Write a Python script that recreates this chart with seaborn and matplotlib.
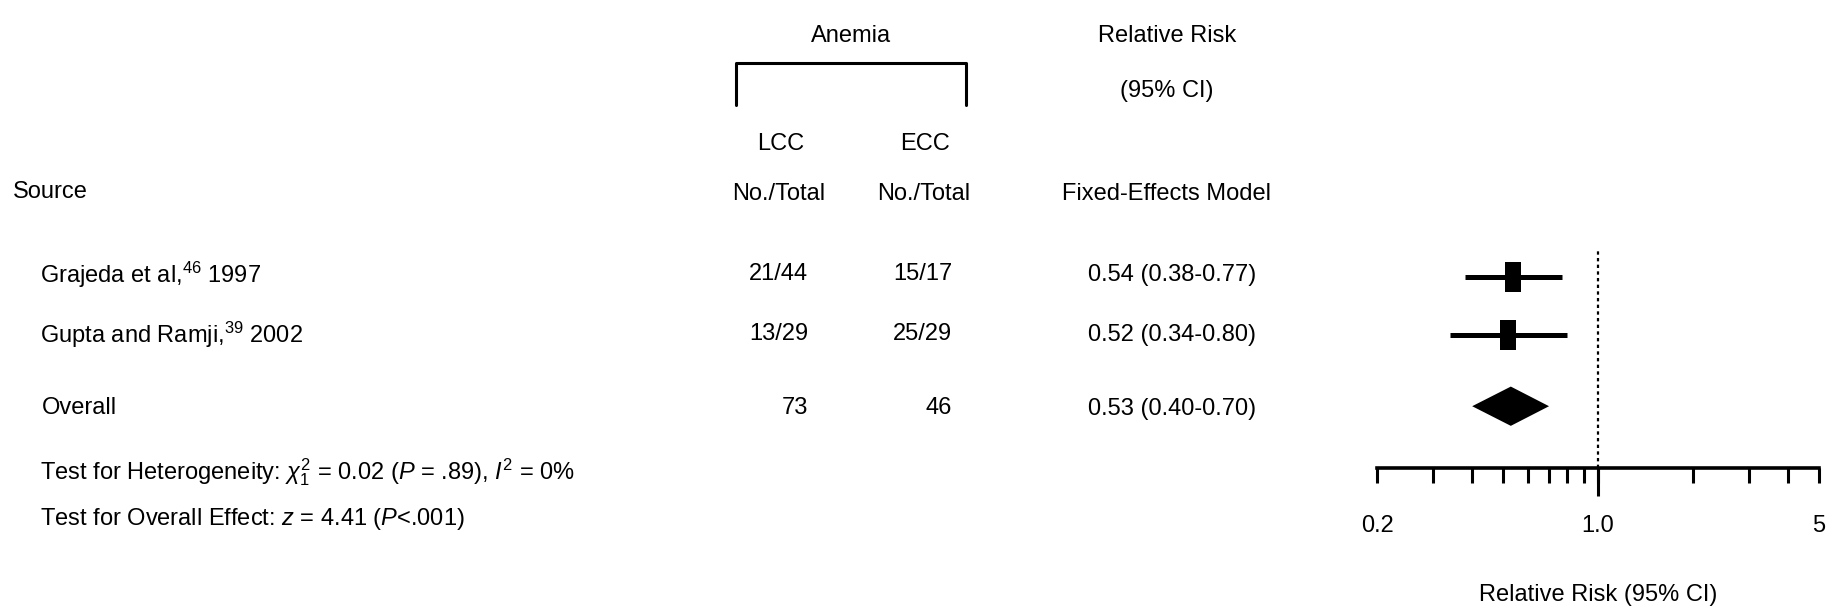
import matplotlib
matplotlib.use("Agg")
import matplotlib.pyplot as plt
from matplotlib import font_manager
from matplotlib.lines import Line2D
from matplotlib.ticker import FixedLocator, FixedFormatter, NullFormatter
import seaborn as sns
import pandas as pd

sns.set_style("white")

# study data
sources = ["Grajeda et al,$^{46}$ 1997", "Gupta and Ramji,$^{39}$ 2002"]
lcc_counts = ["21/44", "13/29"]
ecc_counts = ["15/17", "25/29"]
rr = [0.54, 0.52]
rr_low = [0.38, 0.34]
rr_high = [0.77, 0.80]

overall_lcc = "73"
overall_ecc = "46"
overall_rr = 0.53
overall_low = 0.40
overall_high = 0.70

heterogeneity = r"Test for Heterogeneity: $\chi^2_1$ = 0.02 ($P$ = .89), $I^2$ = 0%"
overall_effect = r"Test for Overall Effect: $z$ = 4.41 ($P$<.001)"

null_value = 1.0
major_ticks = [0.2, 1.0, 5]
major_labels = ["0.2", "1.0", "5"]
minor_ticks = [0.3, 0.4, 0.5, 0.6, 0.7, 0.8, 0.9, 2, 3, 4]


def pick_font():
    for name in ["Liberation Sans Narrow", "Liberation Sans"]:
        try:
            font_manager.findfont(font_manager.FontProperties(family=name),
                                  fallback_to_default=False)
            return name
        except ValueError:
            pass
    return "DejaVu Sans"


font = pick_font()
fs = 20 if "Narrow" in font else 17
plt.rcParams["font.family"] = [font, "DejaVu Sans"]
plt.rcParams["mathtext.fontset"] = "custom"
plt.rcParams["mathtext.rm"] = font
plt.rcParams["mathtext.it"] = font + ":italic"

W, H = 1835, 614
fig = plt.figure(figsize=(W / 100, H / 100), dpi=100)


def fx(x):
    return x / W


def fy(y):
    return 1 - y / H


def txt(x, y, s, ha="left"):
    fig.text(fx(x), fy(y), s, ha=ha, va="center_baseline", fontsize=fs, color="black")


# headers
txt(851, 33, "Anemia", "center")
txt(1167, 33, "Relative Risk", "center")
txt(1167, 88, "(95% CI)", "center")
txt(781, 141, "LCC", "center")
txt(925, 141, "ECC", "center")
txt(13, 190, "Source")
txt(779, 192, "No./Total", "center")
txt(924, 192, "No./Total", "center")
txt(1166, 192, "Fixed-Effects Model", "center")

bracket = Line2D([fx(736), fx(736), fx(966), fx(966)], [fy(105), fy(63), fy(63), fy(105)],
                 transform=fig.transFigure, color="black", lw=2.2)
fig.add_artist(bracket)

# table rows
text_rows = [271, 331]
for y, s, a, b, m, lo, hi in zip(text_rows, sources, lcc_counts, ecc_counts, rr, rr_low, rr_high):
    txt(40, y, s)
    txt(808, y + 1, a, "right")
    txt(952, y + 1, b, "right")
    txt(1088, y + 1, f"{m:.2f} ({lo:.2f}-{hi:.2f})")

txt(42, 406, "Overall")
txt(808, 406, overall_lcc, "right")
txt(952, 406, overall_ecc, "right")
txt(1088, 406, f"{overall_rr:.2f} ({overall_low:.2f}-{overall_high:.2f})")
txt(40, 468, heterogeneity)
txt(40, 515, overall_effect)

# forest plot
ax = fig.add_axes([fx(1377), fy(468), fx(1819) - fx(1377), fy(248) - fy(468)])
df = pd.DataFrame({"rr": rr, "low": rr_low, "high": rr_high})
df["row"] = [1, 2]
overall_row = 3.24

ax.hlines(df["row"], df["low"], df["high"], color="black", lw=3.6, zorder=2)
box = [(-8, -15), (8, -15), (8, 15), (-8, 15), (-8, -15)]
sns.scatterplot(data=df, x="rr", y="row", marker=box, s=21.6 ** 2, color="black",
                edgecolor="black", linewidth=0, ax=ax, zorder=3, legend=False)

h = 0.34
ax.fill([overall_low, overall_rr, overall_high, overall_rr],
        [overall_row, overall_row - h, overall_row, overall_row + h],
        color="black", lw=0, zorder=3)

# null line: dashed above the axis, solid and longer below it
ax.axvline(null_value, color="black", lw=1.6, ls=(0, (1.5, 1.5)), zorder=1)
ax.plot([null_value, null_value], [0, -0.128], transform=ax.get_xaxis_transform(),
        color="black", lw=2.2, clip_on=False, solid_capstyle="butt")

ax.set_xscale("log")
ax.set_xlim(0.2, 5)
ax.set_ylim(4.31, 0.5)
ax.xaxis.set_major_locator(FixedLocator(major_ticks))
ax.xaxis.set_major_formatter(FixedFormatter(major_labels))
ax.xaxis.set_minor_locator(FixedLocator(minor_ticks))
ax.xaxis.set_minor_formatter(NullFormatter())
ax.set_yticks([])
ax.tick_params(axis="x", which="both", bottom=True, direction="out", length=11,
               width=2.2, color="black")
ax.tick_params(axis="x", which="major", pad=23, labelsize=fs, labelcolor="black")

sns.despine(ax=ax, left=True)
ax.spines["bottom"].set_linewidth(2.6)
ax.spines["bottom"].set_color("black")
ax.set_xlabel("Relative Risk (95% CI)", fontsize=fs, color="black")
ax.xaxis.set_label_coords(0.5, -(592 - 468) / 220)
ax.xaxis.label.set_va("center_baseline")
ax.set_ylabel("")

fig.savefig("out.png", dpi=100, facecolor="white")
